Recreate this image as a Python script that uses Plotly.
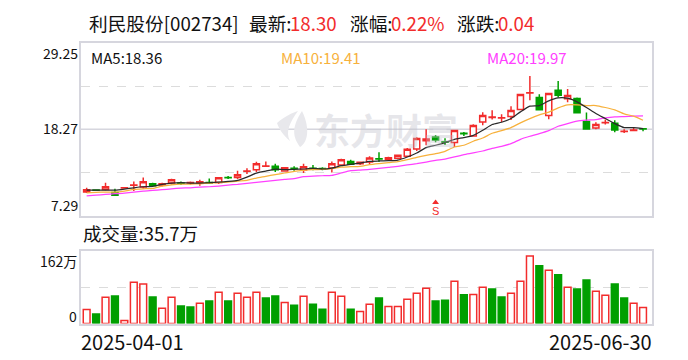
import plotly.graph_objects as go

W, H = 688, 360

dates = ["2025-04-01","2025-04-02","2025-04-03","2025-04-07","2025-04-08","2025-04-09","2025-04-10","2025-04-11","2025-04-14","2025-04-15",
"2025-04-16","2025-04-17","2025-04-18","2025-04-21","2025-04-22","2025-04-23","2025-04-24","2025-04-25","2025-04-28","2025-04-29",
"2025-04-30","2025-05-06","2025-05-07","2025-05-08","2025-05-09","2025-05-12","2025-05-13","2025-05-14","2025-05-15","2025-05-16",
"2025-05-19","2025-05-20","2025-05-21","2025-05-22","2025-05-23","2025-05-26","2025-05-27","2025-05-28","2025-05-29","2025-05-30",
"2025-06-03","2025-06-04","2025-06-05","2025-06-06","2025-06-09","2025-06-10","2025-06-11","2025-06-12","2025-06-13","2025-06-16",
"2025-06-17","2025-06-18","2025-06-19","2025-06-20","2025-06-23","2025-06-24","2025-06-25","2025-06-26","2025-06-27","2025-06-30"]

opens = [10.27,10.54,10.61,10.23,10.78,11.14,10.91,11.33,11.16,11.42,
11.44,11.44,11.42,11.48,11.50,12.12,12.14,12.93,13.12,13.56,
13.55,12.95,13.31,13.08,13.31,13.26,13.33,13.72,14.18,13.89,
14.10,14.51,14.44,14.57,14.82,15.76,16.82,17.29,16.67,16.57,
17.75,17.42,19.20,19.78,19.70,19.89,20.78,22.89,22.31,20.02,
23.25,22.14,22.19,19.25,18.44,19.10,19.04,17.99,18.12,18.32]
closes = [10.57,10.50,10.95,9.88,10.82,11.18,11.59,11.08,11.33,11.84,
11.40,11.48,11.59,11.44,12.10,12.08,12.48,12.97,13.88,13.60,
13.12,13.38,13.27,13.50,13.27,13.22,13.89,14.40,13.80,14.06,
14.61,14.47,14.65,14.95,15.72,17.08,17.04,16.91,16.63,18.10,
17.71,18.74,20.02,19.82,19.74,20.65,22.70,22.93,20.74,22.82,
22.61,22.57,20.36,18.31,18.87,19.14,18.19,18.03,18.16,18.30]
highs = [10.82,10.61,11.46,10.69,10.86,11.63,12.14,11.46,11.46,11.97,
11.63,11.63,11.84,12.01,12.10,12.31,12.99,13.29,14.14,14.18,
13.88,13.38,13.55,13.89,13.72,13.42,14.18,14.53,14.40,14.18,
14.82,15.33,14.78,15.04,15.89,17.25,18.27,17.55,17.12,18.10,
17.93,18.91,20.44,20.70,20.19,21.21,22.70,25.04,22.74,22.82,
24.40,23.38,22.31,20.40,19.16,19.50,19.42,18.27,18.48,18.40]
lows = [10.14,10.40,10.48,9.80,10.74,10.40,10.69,11.03,10.99,11.25,
11.16,11.25,11.08,11.29,11.29,11.93,11.93,12.57,12.82,13.46,
12.82,12.95,12.99,12.70,13.04,13.04,12.78,13.67,13.72,13.72,
13.80,14.10,14.31,14.44,14.82,15.50,16.23,16.61,16.27,16.01,
17.42,17.42,18.78,19.50,19.20,19.46,20.70,21.97,20.70,19.55,
22.31,21.72,20.36,18.27,18.27,18.87,17.89,17.80,18.01,18.01]

ma5 = [10.52,10.52,10.52,10.52,10.65,10.82,10.95,10.99,11.25,11.42,
11.46,11.42,11.42,11.46,11.54,11.63,11.76,12.18,12.69,12.95,
13.20,13.12,13.16,13.21,13.29,13.21,13.33,13.63,13.80,13.97,
14.18,14.23,14.27,14.35,14.74,15.25,15.93,16.23,16.57,16.99,
17.21,17.50,18.14,18.87,19.16,19.63,20.48,21.21,21.29,21.89,
22.27,22.23,21.76,21.04,20.27,19.63,18.99,18.48,18.48,18.36]
ma10 = [10.18,10.23,10.27,10.27,10.40,10.61,10.69,10.74,11.03,11.20,
11.29,11.29,11.33,11.42,11.46,11.54,11.67,11.76,12.06,12.27,
12.50,12.70,12.91,13.04,13.12,13.16,13.25,13.46,13.50,13.55,
13.76,13.89,14.01,14.14,14.40,14.70,14.95,15.16,15.46,16.01,
16.23,16.74,17.16,17.76,18.10,18.48,19.08,19.63,20.10,20.44,
20.99,21.38,21.38,21.29,21.29,21.04,20.74,20.23,19.93,19.41]
ma20 = [9.80,9.88,9.97,10.06,10.14,10.27,10.40,10.48,10.57,10.69,
10.78,10.82,10.91,10.95,11.03,11.16,11.25,11.38,11.50,11.63,
11.76,11.89,11.97,12.23,12.31,12.35,12.40,12.70,12.99,13.08,
13.16,13.29,13.42,13.55,13.72,13.89,14.10,14.31,14.48,14.74,
15.04,15.25,15.50,15.84,16.10,16.44,16.99,17.38,17.72,18.10,
18.65,18.99,19.29,19.42,19.50,19.72,19.85,19.89,19.94,19.97]

volumes = [31.5,21,58.5,61.4,6.8,92,88,59,34,58.5,
39,37,45,50,70,50,67.5,58.5,70,57,
61.4,47,41,61,43,32,70,61,32,27,
43,57,38,38,54,67.5,79,50,52,94.5,
64,65,81,77,59,67.5,94.5,151,129,119,
109,81,77,97,72,63,88,57,45,35.7]
vol_down = [1,3,7,10,11,13,15,19,20,22,24,25,28,31,37,38,40,43,44,48,50,52,53,56,57]

y_ticks = ["29.25", "18.27", "7.29"]
y_top, y_mid, y_bot = 29.25, 18.27, 7.29
vol_top = 162

RED, GREEN = "#f22c2c", "#009f00"
FRAME = "#d6d6de"
FONT = "Noto Sans CJK SC"

L, R = 81, 652
fx = lambda p: p / W
fy = lambda p: 1 - p / H

fig = go.Figure()
fig.add_trace(go.Candlestick(x=dates, open=opens, high=highs, low=lows, close=closes,
    increasing=dict(line=dict(color=RED, width=1.5), fillcolor="white"),
    decreasing=dict(line=dict(color=GREEN, width=1.5), fillcolor=GREEN),
    whiskerwidth=0, xaxis="x", yaxis="y", showlegend=False))
for vals, col in [(ma20, "#ff40ff"), (ma10, "#f7b13c"), (ma5, "#2a2a2a")]:
    fig.add_trace(go.Scatter(x=dates, y=vals, mode="lines", line=dict(color=col, width=1.25, shape="spline", smoothing=0.5),
                             xaxis="x", yaxis="y", showlegend=False))
fig.add_trace(go.Scatter(x=[dates[37]], y=[8.95], mode="markers+text", text=["S"], textposition="bottom center",
    textfont=dict(color=RED, size=11, family="Liberation Sans"),
    marker=dict(symbol="triangle-up", color=RED, size=6), xaxis="x", yaxis="y", showlegend=False))

is_down = [i in vol_down for i in range(len(volumes))]
fig.add_trace(go.Bar(x=dates, y=volumes,
    marker=dict(color=[GREEN if d else "white" for d in is_down],
                line=dict(color=[GREEN if d else RED for d in is_down], width=1.5)),
    width=0.72, xaxis="x2", yaxis="y2", showlegend=False))

x_common = dict(type="category", categoryorder="array", categoryarray=dates, range=[-0.6, 59.95],
                showticklabels=False, ticks="", showgrid=False, showline=True, linecolor=FRAME, linewidth=1.5,
                mirror=True, zeroline=False, rangeslider=dict(visible=False), fixedrange=True)
fig.update_layout(
    width=W, height=H, autosize=False, margin=dict(l=0, r=0, t=0, b=0),
    paper_bgcolor="white", plot_bgcolor="white", font=dict(family=FONT, color="#111111"),
    boxgap=0.08,
    xaxis=dict(domain=[fx(L), fx(R)], anchor="y", **x_common),
    xaxis2=dict(domain=[fx(L), fx(R)], anchor="y2", matches="x", **{k: v for k, v in x_common.items() if k != "rangeslider"}),
    yaxis=dict(domain=[fy(215.5), fy(43)], range=[y_bot, y_top], anchor="x", tickvals=[(y_bot + y_mid) / 2, (y_top + y_mid) / 2],
               showticklabels=False, ticks="", gridcolor="#dcdcdc", griddash="dash", gridwidth=1, zeroline=False,
               showline=True, linecolor=FRAME, linewidth=1.5, mirror=True, fixedrange=True),
    yaxis2=dict(domain=[fy(323.5), fy(251)], range=[0, vol_top], anchor="x2", tickvals=[vol_top / 2],
                showticklabels=False, ticks="", gridcolor="#dcdcdc", griddash="dash", gridwidth=1, zeroline=False,
                showline=True, linecolor=FRAME, linewidth=1.5, mirror=True, fixedrange=True),
    shapes=[
        dict(type="line", xref="x domain", yref="y", x0=0, x1=1, y0=y_mid, y1=y_mid, line=dict(color=FRAME, width=1.5), layer="below"),
        dict(type="path", xref="paper", yref="paper", layer="below", line=dict(width=0), fillcolor="#e8e8ec",
             path=f"M {fx(277)} {fy(123)} C {fx(285)} {fy(116)}, {fx(292)} {fy(113)}, {fx(298)} {fy(111)} C {fx(290)} {fy(122)}, {fx(285)} {fy(132)}, {fx(290)} {fy(141)} C {fx(283)} {fy(135)}, {fx(279)} {fy(129)}, {fx(277)} {fy(123)} Z"),
        dict(type="path", xref="paper", yref="paper", layer="below", line=dict(width=0), fillcolor="#e8e8ec",
             path=f"M {fx(302)} {fy(111)} C {fx(293)} {fy(125)}, {fx(291)} {fy(135)}, {fx(300)} {fy(147)} C {fx(307)} {fy(143)}, {fx(311)} {fy(130)}, {fx(302)} {fy(111)} Z"),
    ],
)

def label(text, x, y, size, color="#111111", anchor="left", family=FONT, weight=None):
    font = dict(size=size, color=color, family=family)
    if weight:
        font["weight"] = weight
    fig.add_annotation(text=text, xref="paper", yref="paper", x=fx(x), y=fy(y), xanchor=anchor, yanchor="middle",
                       showarrow=False, font=font, borderpad=0, borderwidth=0)

label("东方财富", 386, 129, 36, "rgba(190,190,200,0.38)", "center", weight=700)
label("利民股份[002734]", 89, 22, 18.7)
label("最新:", 249, 22, 18.7)
label("18.30", 290, 22, 18.7, RED)
label("涨幅:", 350, 22, 18.7)
label("0.22%", 391, 22, 18.7, RED)
label("涨跌:", 457, 22, 18.7)
label("0.04", 498, 22, 18.7, RED)
label("MA5:18.36", 91, 57, 15)
label("MA10:19.41", 281, 57, 15, "#f7b13c")
label("MA20:19.97", 487, 57, 15, "#ff40ff")
label(y_ticks[0], 78, 53, 14, anchor="right")
label(y_ticks[1], 78, 128, 14, anchor="right")
label(y_ticks[2], 78, 205, 14, anchor="right")
label("成交量:35.7万", 83, 233, 18.5)
label("162万", 77, 261, 14, anchor="right")
label("0", 77, 316, 14, anchor="right")
label(dates[0], 81, 341, 20)
label(dates[-1], 652, 341, 20, anchor="right")

fig.write_html("out.html", config=dict(displayModeBar=False), post_script="document.body.style.margin='0';")
